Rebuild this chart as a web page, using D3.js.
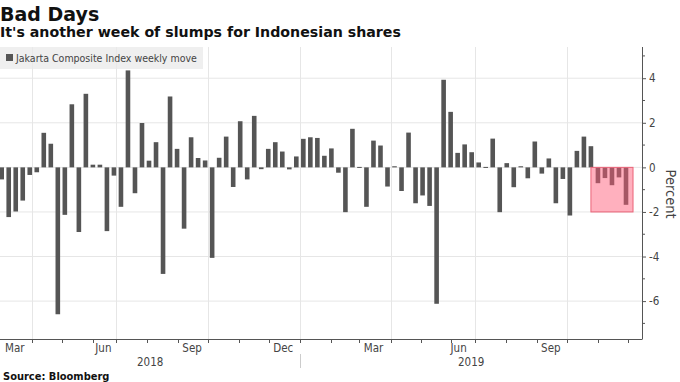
<!DOCTYPE html>
<html>
<head>
<meta charset="utf-8">
<script src="https://cdn.jsdelivr.net/npm/d3@7"></script>
<style>
body { margin: 0; background: #fff; }
svg { display: block; font-family: "DejaVu Sans", sans-serif; }
.cond { font-family: "DejaVu Sans Condensed", "DejaVu Sans", sans-serif; font-stretch: condensed; }
</style>
</head>
<body>
<svg id="chart" width="680" height="382"></svg>
<script>

// week ending dates (exchange shut for Lebaran weeks, so those are missing)
let weeks = [
    "2018-03-02","2018-03-09","2018-03-16","2018-03-23","2018-03-30",
    "2018-04-06","2018-04-13","2018-04-20","2018-04-27",
    "2018-05-04","2018-05-11","2018-05-18","2018-05-25",
    "2018-06-01","2018-06-08","2018-06-22","2018-06-29",
    "2018-07-06","2018-07-13","2018-07-20","2018-07-27",
    "2018-08-03","2018-08-10","2018-08-17","2018-08-24","2018-08-31",
    "2018-09-07","2018-09-14","2018-09-21","2018-09-28",
    "2018-10-05","2018-10-12","2018-10-19","2018-10-26",
    "2018-11-02","2018-11-09","2018-11-16","2018-11-23","2018-11-30",
    "2018-12-07","2018-12-14","2018-12-21","2018-12-28",
    "2019-01-04","2019-01-11","2019-01-18","2019-01-25",
    "2019-02-01","2019-02-08","2019-02-15","2019-02-22",
    "2019-03-01","2019-03-08","2019-03-15","2019-03-22","2019-03-29",
    "2019-04-05","2019-04-12","2019-04-19","2019-04-26",
    "2019-05-03","2019-05-10","2019-05-17","2019-05-24","2019-05-31",
    "2019-06-14","2019-06-21","2019-06-28",
    "2019-07-05","2019-07-12","2019-07-19","2019-07-26",
    "2019-08-02","2019-08-09","2019-08-16","2019-08-23","2019-08-30",
    "2019-09-06","2019-09-13","2019-09-20","2019-09-27",
    "2019-10-04","2019-10-11","2019-10-18","2019-10-25",
    "2019-11-01","2019-11-08","2019-11-15","2019-11-22","2019-11-29"
]

// Jakarta Composite Index weekly move, percent
let moves = [
    -0.54, -2.23, -1.98, -1.49, -0.34,
    -0.22, 1.55, 1.06, -6.59,
    -2.13, 2.83, -2.90, 3.30,
    0.12, 0.12, -2.86, -0.37,
    -1.77, 4.35, -1.16, 1.99,
    0.30, 1.13, -4.78, 3.18, 0.83,
    -2.75, 1.35, 0.42, 0.31,
    -4.06, 0.43, 1.38, -0.88,
    2.07, -0.54, 2.31, -0.08, 0.83,
    1.13, 0.71, -0.09, 0.49,
    1.28, 1.35, 1.32, 0.52,
    0.85, -0.24, -2.01, 1.73,
    0.02, -1.77, 1.20, 0.98, -0.86,
    0.05, -1.06, 1.56, -1.61,
    -1.26, -1.73, -6.12, 3.93, 2.49,
    0.65, 1.03, 0.68,
    0.22, 0.02, 1.29, -2.01,
    0.19, -0.89, 0.05, -0.49, 1.16,
    -0.28, 0.40, -1.61, -0.52,
    -2.16, 0.74, 1.38, 0.95,
    -0.71, -0.48, -0.80, -0.45, -1.68
]

let yTicks = [-6, -4, -2, 0, 2, 4]
let yMinorTicks = [-7, -5, -3, -1, 1, 3, 5]
let monthLabels = ["Mar", "Jun", "Sep", "Dec"]
let years = ["2018", "2019"]
let highlightWeeks = ["2019-10-25", "2019-12-06"]
let highlightValues = [0, -2]

let parse = d3.timeParse("%Y-%m-%d")
let dates = weeks.map(parse)
let data = dates.map((d, i) => ({ date: d, value: moves[i] }))

let svg = d3.select("#chart")

let plot = { left: 0, right: 642, top: 47, bottom: 339 }

// bars sit evenly, one per trading week
let xp = d3.scalePoint()
    .domain(d3.range(dates.length))
    .range([1.7, 626])

// time scale through the bar positions, used for the calendar ticks
let x = d3.scaleTime()
    .domain(dates)
    .range(dates.map((d, i) => xp(i)))

let y = d3.scaleLinear()
    .domain([-7.7, 5.4])
    .range([plot.bottom, plot.top])

let grid = "#e6e6e6"

// horizontal grid
svg.append("g")
    .selectAll("line")
    .data(yTicks)
    .join("line")
    .attr("x1", plot.left)
    .attr("x2", plot.right)
    .attr("y1", d => y(d))
    .attr("y2", d => y(d))
    .attr("stroke", grid)
    .attr("stroke-width", 1)

// quarter grid lines
let quarters = d3.timeMonth.every(3).range(parse("2018-04-01"), parse("2019-10-02"))
svg.append("g")
    .selectAll("line")
    .data(quarters)
    .join("line")
    .attr("x1", d => Math.round(x(d)) + 0.5)
    .attr("x2", d => Math.round(x(d)) + 0.5)
    .attr("y1", plot.top)
    .attr("y2", plot.bottom)
    .attr("stroke", grid)
    .attr("stroke-width", 1)

// legend
let legend = svg.append("g")
legend.append("rect")
    .attr("x", 0).attr("y", 47)
    .attr("width", 203).attr("height", 22)
    .attr("fill", "#e9e9e9")
    .attr("fill-opacity", 0.75)
legend.append("rect")
    .attr("x", 6).attr("y", 54)
    .attr("width", 7).attr("height", 7)
    .attr("fill", "#555")
legend.append("text")
    .attr("class", "cond")
    .attr("x", 16).attr("y", 62)
    .attr("font-size", 10.5)
    .attr("fill", "#444")
    .text("Jakarta Composite Index weekly move")

// bars
let barWidth = 4.6
svg.append("g")
    .selectAll("rect")
    .data(data)
    .join("rect")
    .attr("x", d => x(d.date) - barWidth / 2)
    .attr("y", d => y(Math.max(0, d.value)))
    .attr("width", barWidth)
    .attr("height", d => Math.max(1, Math.abs(y(d.value) - y(0))))
    .attr("fill", "#555")

// highlight box on the latest run of losses
let hx0 = x(parse(highlightWeeks[0]))
let hx1 = x(parse(highlightWeeks[1]))
svg.append("rect")
    .attr("x", hx0)
    .attr("y", y(highlightValues[0]))
    .attr("width", hx1 - hx0)
    .attr("height", y(highlightValues[1]) - y(highlightValues[0]))
    .attr("fill", "rgb(255, 90, 120)")
    .attr("fill-opacity", 0.48)
    .attr("stroke", "rgb(235, 100, 120)")
    .attr("stroke-width", 1)

// right axis
let yAxis = d3.axisRight(y)
    .tickValues(yTicks)
    .tickSize(4)
    .tickPadding(3)
    .tickFormat(d3.format("d"))
let ya = svg.append("g")
    .attr("transform", "translate(" + plot.right + ",0)")
    .call(yAxis)
ya.select(".domain").remove()
ya.selectAll("line").attr("stroke", "#555")
ya.selectAll("text")
    .attr("class", "cond")
    .attr("font-size", 11.5)
    .attr("fill", "#444")
    .text(d => (d < 0 ? "-" : "") + Math.abs(d))
ya.append("g")
    .selectAll("line")
    .data(yMinorTicks)
    .join("line")
    .attr("x1", 0).attr("x2", 3)
    .attr("y1", d => y(d)).attr("y2", d => y(d))
    .attr("stroke", "#555")
ya.append("line")
    .attr("x1", 0.5).attr("x2", 0.5)
    .attr("y1", plot.top).attr("y2", plot.bottom)
    .attr("stroke", "#555")

svg.append("text")
    .attr("class", "cond")
    .attr("transform", "translate(666," + y(-1.2) + ") rotate(90)")
    .attr("text-anchor", "middle")
    .attr("font-size", 14.5)
    .attr("fill", "#444")
    .text("Percent")

// bottom axis
svg.append("line")
    .attr("x1", plot.left).attr("x2", plot.right + 0.5)
    .attr("y1", plot.bottom + 0.5).attr("y2", plot.bottom + 0.5)
    .attr("stroke", "#555")

let months = d3.timeMonth.range(parse("2018-04-01"), parse("2019-12-02"))
svg.append("g")
    .selectAll("line")
    .data(months)
    .join("line")
    .attr("x1", d => Math.round(x(d)) + 0.5)
    .attr("x2", d => Math.round(x(d)) + 0.5)
    .attr("y1", plot.bottom)
    .attr("y2", plot.bottom + 4)
    .attr("stroke", "#555")

let fmtMonth = d3.timeFormat("%b")
let labelled = d3.timeMonth.range(parse("2018-03-01"), parse("2019-10-01"))
    .filter(d => monthLabels.includes(fmtMonth(d)))
svg.append("g")
    .selectAll("text")
    .data(labelled)
    .join("text")
    .attr("class", "cond")
    .attr("x", d => x(d3.timeDay.offset(d, 14)))
    .attr("y", 351.5)
    .attr("text-anchor", "middle")
    .attr("font-size", 11.5)
    .attr("fill", "#444")
    .text(d => fmtMonth(d))

let yearStart = x(parse("2019-01-01"))
svg.append("line")
    .attr("x1", Math.round(yearStart) + 0.5)
    .attr("x2", Math.round(yearStart) + 0.5)
    .attr("y1", plot.bottom + 15)
    .attr("y2", plot.bottom + 29)
    .attr("stroke", "#ccc")

let yearMid = [(plot.left + yearStart) / 2, (yearStart + plot.right) / 2]
svg.append("g")
    .selectAll("text")
    .data(years)
    .join("text")
    .attr("class", "cond")
    .attr("x", (d, i) => yearMid[i])
    .attr("y", 366)
    .attr("text-anchor", "middle")
    .attr("font-size", 11.5)
    .attr("fill", "#444")
    .text(d => d)

// titles
svg.append("text")
    .attr("x", 0).attr("y", 21)
    .attr("font-size", 19)
    .attr("font-weight", "bold")
    .attr("fill", "#111")
    .text("Bad Days")

svg.append("text")
    .attr("x", 0).attr("y", 37)
    .attr("font-size", 14.2)
    .attr("font-weight", "bold")
    .attr("fill", "#111")
    .text("It's another week of slumps for Indonesian shares")

svg.append("text")
    .attr("class", "cond")
    .attr("x", 3).attr("y", 380)
    .attr("font-size", 11)
    .attr("font-weight", "bold")
    .attr("fill", "#111")
    .text("Source: Bloomberg")

</script>
</body>
</html>
